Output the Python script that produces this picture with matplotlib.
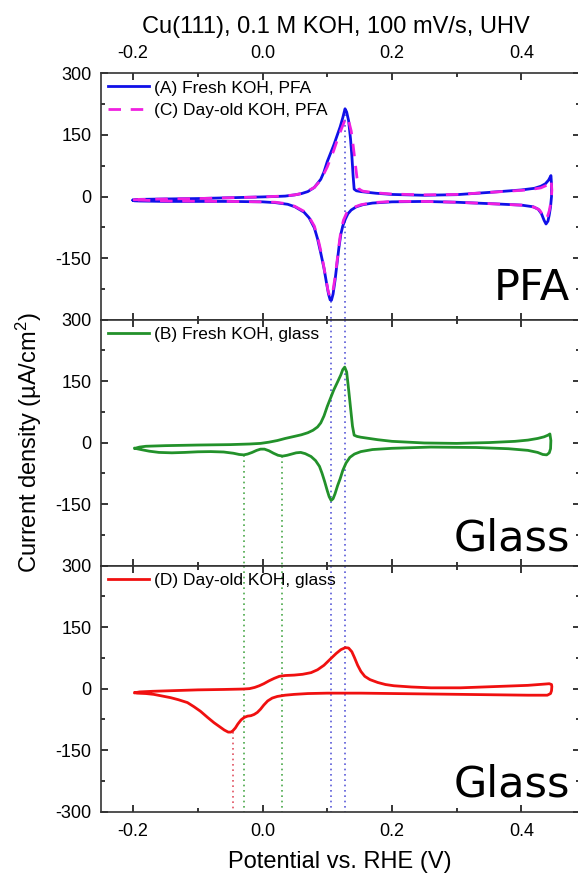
"""
Cu(111) cyclic voltammograms in 0.1 M KOH: PFA cell vs glass cell.
Three stacked panels sharing the potential axis.
"""

import matplotlib.pyplot as plt
from matplotlib.ticker import MultipleLocator

plt.rcParams["font.family"] = ["Liberation Sans", "DejaVu Sans"]
plt.rcParams["mathtext.fontset"] = "custom"
plt.rcParams["mathtext.rm"] = "Liberation Sans"
plt.rcParams["mathtext.it"] = "Liberation Sans:italic"

# (A) Fresh KOH, PFA -- anodic (forward) and cathodic (reverse) sweeps
a_fwd_v = [-0.200, -0.197, -0.190, -0.150, -0.100, -0.050, 0.000, 0.020, 0.035, 0.050, 0.060,
           0.070, 0.080, 0.090, 0.095, 0.100, 0.105, 0.110, 0.116, 0.120, 0.124, 0.1275,
           0.130, 0.133, 0.136, 0.138, 0.140, 0.1416, 0.145, 0.152, 0.175, 0.200, 0.250,
           0.300, 0.350, 0.400, 0.420, 0.430, 0.437, 0.442, 0.4456]
a_fwd_j = [-9, -7.5, -7, -6, -5, -3, -1, 0, 1, 4, 7,
           12, 22, 42, 60, 85, 105, 125, 152, 170, 192, 214,
           206, 185, 140, 100, 50, 18, 14, 12, 8, 5, 3,
           4.5, 10, 16, 20, 25, 31, 40, 51]
a_rev_v = [0.4456, 0.4465, 0.4465, 0.445, 0.443, 0.441, 0.438, 0.435, 0.431, 0.426, 0.418,
           0.400, 0.360, 0.300, 0.250, 0.200, 0.170, 0.155, 0.145, 0.137, 0.132, 0.128,
           0.124, 0.121, 0.118, 0.115, 0.112, 0.109, 0.1065, 0.1045, 0.102, 0.099, 0.095,
           0.090, 0.085, 0.080, 0.072, 0.064, 0.050, 0.039, 0.020, 0.000, -0.050, -0.150,
           -0.190, -0.198, -0.200]
a_rev_j = [51, 30, 0, -25, -45, -60, -67, -58, -42, -31, -25,
           -21, -18, -14, -12, -13, -16, -20, -25, -33, -42, -55,
           -72, -92, -125, -165, -205, -238, -253, -252, -238, -212, -175,
           -138, -103, -76, -52, -38, -25, -19, -15, -13, -12, -12,
           -11, -10.5, -9]

# (C) Day-old KOH, PFA
c_fwd_v = [-0.200, -0.150, -0.100, -0.050, 0.000, 0.030, 0.050, 0.065, 0.080, 0.090, 0.100,
           0.110, 0.116, 0.122, 0.127, 0.130, 0.133, 0.137, 0.140, 0.143, 0.146, 0.149,
           0.155, 0.175, 0.200, 0.250, 0.300, 0.360, 0.410, 0.430, 0.440, 0.446]
c_fwd_j = [-8, -6, -5, -3, -1, 1, 4, 9, 22, 40, 72,
           112, 140, 165, 185, 194, 185, 160, 125, 85, 45, 18,
           13, 9, 6, 4, 5, 11, 16, 21, 28, 40]
c_rev_v = [0.446, 0.447, 0.446, 0.443, 0.440, 0.437, 0.433, 0.428, 0.420, 0.400, 0.360,
           0.300, 0.250, 0.200, 0.170, 0.152, 0.140, 0.130, 0.125, 0.121, 0.118, 0.115,
           0.112, 0.109, 0.1065, 0.104, 0.101, 0.098, 0.094, 0.090, 0.085, 0.080, 0.072,
           0.064, 0.050, 0.039, 0.020, 0.000, -0.050, -0.150, -0.200]
c_rev_j = [40, 15, -10, -35, -50, -55, -45, -33, -26, -21, -18,
           -14, -12, -12, -15, -20, -27, -40, -58, -85, -120, -160,
           -198, -228, -244, -244, -228, -200, -165, -132, -98, -72, -50,
           -36, -24, -18, -14, -13, -12, -11, -8]

# (B) Fresh KOH, glass
b_fwd_v = [-0.197, -0.190, -0.180, -0.150, -0.100, -0.050, -0.020, -0.003, 0.010, 0.023, 0.035,
           0.049, 0.060, 0.070, 0.078, 0.085, 0.090, 0.095, 0.100, 0.105, 0.110, 0.116,
           0.121, 0.124, 0.127, 0.130, 0.133, 0.136, 0.139, 0.1416, 0.146, 0.152, 0.165,
           0.178, 0.200, 0.250, 0.300, 0.350, 0.390, 0.410, 0.425, 0.435, 0.441, 0.444]
b_fwd_j = [-14, -11, -9, -7.5, -6, -5, -3.5, -2, 1, 5, 10,
           15, 19, 24, 30, 38, 48, 65, 88, 108, 128, 148,
           165, 178, 184, 172, 130, 85, 40, 18, 15, 13, 10,
           7, 3, -1, -2, 0, 3, 6, 10, 14, 18, 21]
b_rev_v = [0.444, 0.4455, 0.445, 0.443, 0.439, 0.433, 0.425, 0.410, 0.380, 0.330, 0.260,
           0.200, 0.170, 0.152, 0.142, 0.135, 0.129, 0.124, 0.120, 0.116, 0.112, 0.109,
           0.106, 0.103, 0.100, 0.096, 0.092, 0.088, 0.082, 0.075, 0.066, 0.059, 0.052,
           0.045, 0.038, 0.031, 0.024, 0.017, 0.010, 0.003, -0.003, -0.009, -0.016, -0.023,
           -0.029, -0.036, -0.045, -0.060, -0.080, -0.100, -0.120, -0.140, -0.160, -0.175,
           -0.188, -0.197]
b_rev_j = [21, 5, -15, -25, -30, -29, -24, -19, -15, -12, -11,
           -14, -17, -22, -28, -36, -50, -68, -88, -105, -125, -137,
           -141, -132, -117, -95, -75, -58, -44, -34, -27, -24, -25,
           -28, -31, -33, -31, -26, -20, -16, -16, -19, -24, -28,
           -30, -29, -26, -23, -22, -22.5, -24, -25, -24, -21,
           -17, -14]

# (D) Day-old KOH, glass
d_fwd_v = [-0.197, -0.190, -0.170, -0.140, -0.100, -0.060, -0.030, -0.020, -0.012, -0.005, 0.002,
           0.010, 0.018, 0.026, 0.035, 0.049, 0.062, 0.075, 0.085, 0.095, 0.106, 0.114,
           0.121, 0.128, 0.133, 0.138, 0.142, 0.147, 0.152, 0.158, 0.166, 0.178, 0.190,
           0.203, 0.230, 0.260, 0.306, 0.358, 0.410, 0.435, 0.443, 0.4465, 0.447]
d_fwd_j = [-10, -8, -6.5, -5, -3, -2, -1, 0, 3, 7, 12,
           19, 25, 30, 32, 33, 35, 39, 46, 57, 74, 86,
           95, 100, 99, 90, 76, 57, 42, 30, 22, 15, 10,
           7, 4, 2, 2, 5, 8, 11, 12, 10, 5]
d_rev_v = [0.447, 0.4465, 0.445, 0.440, 0.410, 0.358, 0.255, 0.152, 0.100, 0.070, 0.049,
           0.035, 0.023, 0.015, 0.008, 0.002, -0.003, -0.008, -0.013, -0.018, -0.023, -0.028,
           -0.033, -0.038, -0.042, -0.046, -0.049, -0.053, -0.059, -0.067, -0.075, -0.085,
           -0.096, -0.106, -0.116, -0.130, -0.142, -0.155, -0.168, -0.180, -0.194, -0.197]
d_rev_j = [5, -5, -12, -16, -16, -15, -13, -11, -11, -12, -14,
           -16, -19, -23, -30, -40, -50, -58, -63, -66, -67, -70,
           -76, -86, -96, -103, -106, -106, -101, -92, -83, -70,
           -55, -44, -34, -27, -22, -18, -14, -12, -11, -10]

# dotted guide lines: potentials and where they start in the first panel they appear
blue_guides_v = [0.1056, 0.1275]
blue_guides_start = [-255, 214]
green_guides_v = [-0.029, 0.030]
green_guides_start = [-30, -33]
red_guides_v = [-0.046]
red_guides_start = [-106]

x_ticks = [-0.2, 0.0, 0.2, 0.4]
x_labels = ["-0.2", "0.0", "0.2", "0.4"]
y_ticks = [300, 150, 0, -150, -300]


def style_axis(ax):
    ax.set_xlim(-0.25, 0.49)
    ax.set_ylim(-300, 300)
    ax.set_xticks(x_ticks)
    ax.xaxis.set_minor_locator(MultipleLocator(0.1))
    ax.set_yticks(y_ticks)
    ax.yaxis.set_minor_locator(MultipleLocator(75))
    ax.tick_params(which="both", direction="in", top=True, right=True,
                   labelbottom=False, width=1.1)
    ax.tick_params(which="major", length=5)
    ax.tick_params(which="minor", length=3)
    ax.tick_params(axis="x", labelsize=13, pad=8)
    ax.tick_params(axis="y", labelsize=13, pad=6.5)
    for s in ax.spines.values():
        s.set_linewidth(1.2)
        s.set_color("#333333")


def guides(ax, xs, starts, color):
    for x, y0 in zip(xs, starts):
        ax.plot([x, x], [y0, -300], color=color, lw=1.2, linestyle=(0, (1, 2.2)), zorder=1)


fig = plt.figure(figsize=(5.78, 8.81), dpi=100)
left, width, h = 0.1742, 0.8287, 0.2793
ax1 = fig.add_axes([left, 0.0787 + 2 * h, width, h])
ax2 = fig.add_axes([left, 0.0787 + h, width, h])
ax3 = fig.add_axes([left, 0.0787, width, h])
for ax in (ax1, ax2, ax3):
    style_axis(ax)

blue, magenta, green, red = "#1010e8", "#f020e0", "#22912a", "#f01010"
blue_dot, green_dot, red_dot = "#5a5ad8", "#4aa84a", "#e05060"

# Panel 1: PFA
ax1.plot(a_fwd_v + a_rev_v, a_fwd_j + a_rev_j, color=blue, lw=2, label="(A) Fresh KOH, PFA", zorder=3)
ax1.plot(c_fwd_v + c_rev_v, c_fwd_j + c_rev_j, color=magenta, lw=2, linestyle=(0, (4.5, 3.5)),
         label="(C) Day-old KOH, PFA", zorder=4)
guides(ax1, blue_guides_v, blue_guides_start, blue_dot)
ax1.tick_params(axis="x", labeltop=True)
ax1.set_yticks(y_ticks[:-1])

# Panel 2: glass, fresh
ax2.plot(b_fwd_v + b_rev_v, b_fwd_j + b_rev_j, color=green, lw=2, label="(B) Fresh KOH, glass", zorder=3)
guides(ax2, blue_guides_v, [300, 300], blue_dot)
guides(ax2, green_guides_v, green_guides_start, green_dot)
ax2.set_yticks(y_ticks[:-1])

# Panel 3: glass, day-old
ax3.plot(d_fwd_v + d_rev_v, d_fwd_j + d_rev_j, color=red, lw=2, label="(D) Day-old KOH, glass", zorder=3)
guides(ax3, blue_guides_v, [300, 300], blue_dot)
guides(ax3, green_guides_v, [300, 300], green_dot)
guides(ax3, red_guides_v, red_guides_start, red_dot)
ax3.tick_params(axis="x", labelbottom=True)
ax3.set_xlabel("Potential vs. RHE (V)", fontsize=17, labelpad=8)

for ax in (ax1, ax2, ax3):
    ax.set_xticklabels(x_labels)
    ax.set_yticklabels([str(t) for t in ax.get_yticks().astype(int)])
    ax.legend(loc="upper left", frameon=False, fontsize=12.5, handlelength=2.4,
              handletextpad=0.25, borderaxespad=0.0, borderpad=0.4, labelspacing=0.4)

ax1.text(0.98, 0.081, "PFA", transform=ax1.transAxes, ha="right", va="baseline",
         fontsize=31, family="DejaVu Sans")
ax2.text(0.98, 0.061, "Glass", transform=ax2.transAxes, ha="right", va="baseline",
         fontsize=31, family="DejaVu Sans")
ax3.text(0.98, 0.061, "Glass", transform=ax3.transAxes, ha="right", va="baseline",
         fontsize=31, family="DejaVu Sans")

fig.text(0.581, 0.9622, "Cu(111), 0.1 M KOH, 100 mV/s, UHV", ha="center", va="baseline", fontsize=17)
fig.text(0.05, 0.4977, "Current density (µA/cm$^2$)", rotation=90, ha="center", va="center", fontsize=17)

fig.savefig("out.png", dpi=100)
plt.close(fig)
